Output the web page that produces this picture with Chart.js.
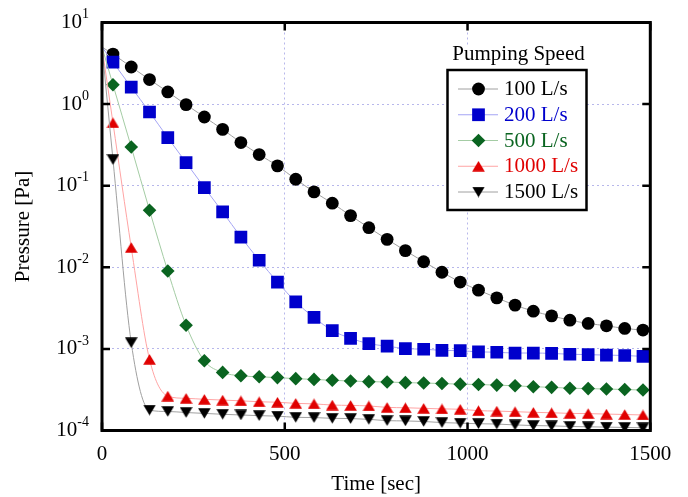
<!DOCTYPE html>
<html>
<head>
<meta charset="utf-8">
<script src="https://cdn.jsdelivr.net/npm/chart.js@4/dist/chart.umd.min.js"></script>
<style>
  html, body { margin: 0; padding: 0; background: #fff; }
  #wrap { width: 688px; height: 497px; }
</style>
</head>
<body>
<div id="wrap"><canvas id="pressure-chart" width="688" height="497"></canvas></div>
<script>
// sampling times [sec]; the t = 0 point only starts the curve, no marker there
const times = [0, 30, 80, 130, 180, 230, 280, 330, 380, 430, 480, 530, 580, 630, 680, 730,
  780, 830, 880, 930, 980, 1030, 1080, 1130, 1180, 1230, 1280, 1330, 1380, 1430, 1480];

const speedLabels = ['100 L/s', '200 L/s', '500 L/s', '1000 L/s', '1500 L/s'];

// pressure [Pa]
const p100 = [5.0, 4.1, 2.85, 2.0, 1.41, 0.985, 0.695, 0.49, 0.338, 0.241,
  0.175, 0.12, 0.084, 0.061, 0.043, 0.0306, 0.022, 0.016, 0.0117, 0.0087,
  0.0066, 0.00525, 0.00422, 0.00344, 0.0029, 0.00254, 0.00225, 0.00205, 0.00192, 0.00178,
  0.0017];
const p200 = [5.0, 3.27, 1.61, 0.80, 0.388, 0.192, 0.095, 0.0477, 0.0235, 0.0122,
  0.0066, 0.00377, 0.00243, 0.00168, 0.00135, 0.00116, 0.00108, 0.00101, 0.00099, 0.00096,
  0.00095, 0.00092, 0.00091, 0.00089, 0.00089, 0.00088, 0.00086, 0.00085, 0.00084, 0.00083,
  0.00081];
const p500 = [5.0, 1.73, 0.298, 0.050, 0.0090, 0.00195, 0.000715, 0.000515, 0.000468, 0.000455,
  0.000445, 0.000432, 0.000423, 0.000412, 0.000404, 0.000397, 0.000393, 0.000386, 0.000382, 0.000376,
  0.00037, 0.000366, 0.00036, 0.000353, 0.000344, 0.000338, 0.00033, 0.000326, 0.000322, 0.000318,
  0.000313];
const p1000 = [5.0, 0.59, 0.0175, 0.000745, 0.000264, 0.000248, 0.000241, 0.000236, 0.000231, 0.000225,
  0.000222, 0.000215, 0.000212, 0.000205, 0.000203, 0.0002, 0.000192, 0.00019, 0.000187, 0.000184,
  0.000182, 0.000175, 0.000173, 0.00017, 0.000167, 0.000165, 0.000162, 0.000161, 0.000159, 0.000157,
  0.000155];
const p1500 = [5.0, 0.209, 0.00119, 0.000178, 0.000171, 0.000166, 0.000162, 0.000158, 0.000155, 0.000152,
  0.00015, 0.000145, 0.000144, 0.000141, 0.00014, 0.000137, 0.000132, 0.000131, 0.000129, 0.000125,
  0.000123, 0.000121, 0.00012, 0.000117, 0.000115, 0.000114, 0.000112, 0.000111, 0.00011, 0.000109,
  0.000108];

const pressureSeries = [p100, p200, p500, p1000, p1500];

const xTickValues = [0, 500, 1000, 1500];
const yDecades = [1, 0, -1, -2, -3, -4];

const markerColors = ['#000000', '#0000cc', '#0a6420', '#e00000', '#000000'];
const lineColors = ['#a0a0a0', '#a4a4f4', '#a4cca4', '#ffa4a4', '#a0a0a0'];
const textColors = ['#000000', '#0000cc', '#0a6420', '#e00000', '#000000'];

const SERIF = "'Liberation Serif', 'Times New Roman', serif";

// triangles as small images so the box, not the centroid, sits on the value
const makeTriangle = (color, down) => {
  const c = document.createElement('canvas');
  c.width = 13;
  c.height = 11;
  const g = c.getContext('2d');
  g.fillStyle = color;
  g.beginPath();
  if (down) {
    g.moveTo(0.2, 0.3); g.lineTo(12.8, 0.3); g.lineTo(6.5, 10.7);
  } else {
    g.moveTo(6.5, 0.3); g.lineTo(12.8, 10.7); g.lineTo(0.2, 10.7);
  }
  g.closePath();
  g.fill();
  return c;
};

const markerStyles = ['circle', 'rect', 'rectRot', makeTriangle('#e00000', false), makeTriangle('#000000', true)];
const markerRadii = [6.4, 9.0, 6.8, 7, 7];

const datasets = pressureSeries.map((series, i) => ({
  label: speedLabels[i],
  data: times.map((t, k) => ({ x: t, y: series[k] })),
  borderColor: lineColors[i],
  borderWidth: 1,
  cubicInterpolationMode: 'monotone',
  pointStyle: markerStyles[i],
  pointRadius: (ctx) => (ctx.dataIndex === 0 ? 0 : markerRadii[i]),
  pointHoverRadius: (ctx) => (ctx.dataIndex === 0 ? 0 : markerRadii[i]),
  pointBackgroundColor: markerColors[i],
  pointBorderColor: markerColors[i],
  pointBorderWidth: 0,
  order: pressureSeries.length - i,
}));

// y labels as 10 with a raised exponent, the boxed legend and the frame with inward ticks
const decorations = {
  id: 'decorations',
  afterDraw(chart) {
    const { ctx, chartArea: a, scales: { x, y } } = chart;
    ctx.save();

    // y tick labels
    ctx.fillStyle = '#000';
    ctx.textBaseline = 'middle';
    yDecades.forEach((e) => {
      const py = y.getPixelForValue(10 ** e);
      const exp = String(e);
      ctx.font = `14px ${SERIF}`;
      const expW = ctx.measureText(exp).width;
      ctx.font = `21px ${SERIF}`;
      const baseW = ctx.measureText('10').width;
      const right = 89;
      ctx.textAlign = 'left';
      ctx.fillText('10', right - expW - baseW, py);
      ctx.font = `14px ${SERIF}`;
      ctx.fillText(exp, right - expW, py - 8);
    });

    // legend
    const box = { left: 447.5, right: 586.5, top: 70, bottom: 210 };
    ctx.fillStyle = '#fff';
    ctx.fillRect(box.left, 45, box.right - box.left, box.bottom - 45);
    ctx.fillStyle = '#000';
    ctx.font = `21px ${SERIF}`;
    ctx.textAlign = 'center';
    ctx.fillText('Pumping Speed', 518.5, 54);
    ctx.lineWidth = 2.5;
    ctx.strokeStyle = '#000';
    ctx.strokeRect(box.left, box.top, box.right - box.left, box.bottom - box.top);

    chart.data.datasets.forEach((ds, i) => {
      const ry = 89 + i * 25.75;
      ctx.strokeStyle = lineColors[i];
      ctx.lineWidth = 1;
      ctx.beginPath();
      ctx.moveTo(458, ry);
      ctx.lineTo(498, ry);
      ctx.stroke();
      ctx.fillStyle = markerColors[i];
      Chart.helpers.drawPoint(ctx, {
        pointStyle: markerStyles[i], radius: markerRadii[i], rotation: 0, borderWidth: 0,
      }, 478.5, ry);
      ctx.fillStyle = textColors[i];
      ctx.font = `21px ${SERIF}`;
      ctx.textAlign = 'left';
      ctx.fillText(ds.label, 504, ry + 0.5);
    });

    // frame
    ctx.strokeStyle = '#000';
    ctx.lineWidth = 3;
    ctx.strokeRect(a.left, a.top, a.right - a.left, a.bottom - a.top);

    // inward ticks
    ctx.lineWidth = 2.5;
    ctx.beginPath();
    xTickValues.forEach((v) => {
      const px = x.getPixelForValue(v);
      ctx.moveTo(px, a.top); ctx.lineTo(px, a.top + 8);
      ctx.moveTo(px, a.bottom); ctx.lineTo(px, a.bottom - 8);
    });
    yDecades.forEach((e) => {
      const py = y.getPixelForValue(10 ** e);
      ctx.moveTo(a.left, py); ctx.lineTo(a.left + 8, py);
      ctx.moveTo(a.right, py); ctx.lineTo(a.right - 8, py);
    });
    ctx.stroke();

    ctx.restore();
  },
};

const gridStyle = {
  color: 'rgba(165, 165, 230, 0.8)',
  lineWidth: 1,
  drawTicks: false,
};

// eslint-disable-next-line
new Chart(document.getElementById('pressure-chart'), {
  type: 'line',
  data: { datasets },
  plugins: [decorations],
  options: {
    responsive: false,
    devicePixelRatio: 1,
    animation: false,
    layout: { padding: { left: 7, right: 37.7, top: 22.5, bottom: 0 } },
    plugins: {
      legend: { display: false },
      tooltip: { enabled: false },
    },
    scales: {
      x: {
        type: 'linear',
        min: 0,
        max: 1500,
        afterBuildTicks: (axis) => { axis.ticks = xTickValues.map((v) => ({ value: v })); },
        afterFit: (axis) => { axis.height = 66.5; },
        ticks: {
          autoSkip: false,
          maxRotation: 0,
          padding: 11,
          color: '#000',
          font: { family: SERIF, size: 21 },
          callback: (value) => String(value),
        },
        grid: gridStyle,
        border: { display: false, dash: [2, 3] },
        title: {
          display: true,
          text: 'Time [sec]',
          color: '#000',
          font: { family: SERIF, size: 21 },
          padding: { top: 0, bottom: 0 },
        },
      },
      y: {
        type: 'logarithmic',
        min: 1e-4,
        max: 10,
        afterBuildTicks: (axis) => { axis.ticks = yDecades.map((e) => ({ value: 10 ** e })); },
        afterFit: (axis) => { axis.width = 95; },
        ticks: { display: false },
        grid: gridStyle,
        border: { display: false, dash: [2, 3] },
        title: {
          display: true,
          text: 'Pressure [Pa]',
          color: '#000',
          font: { family: SERIF, size: 21 },
          padding: { top: 4, bottom: 0 },
        },
      },
    },
  },
});
</script>
</body>
</html>
